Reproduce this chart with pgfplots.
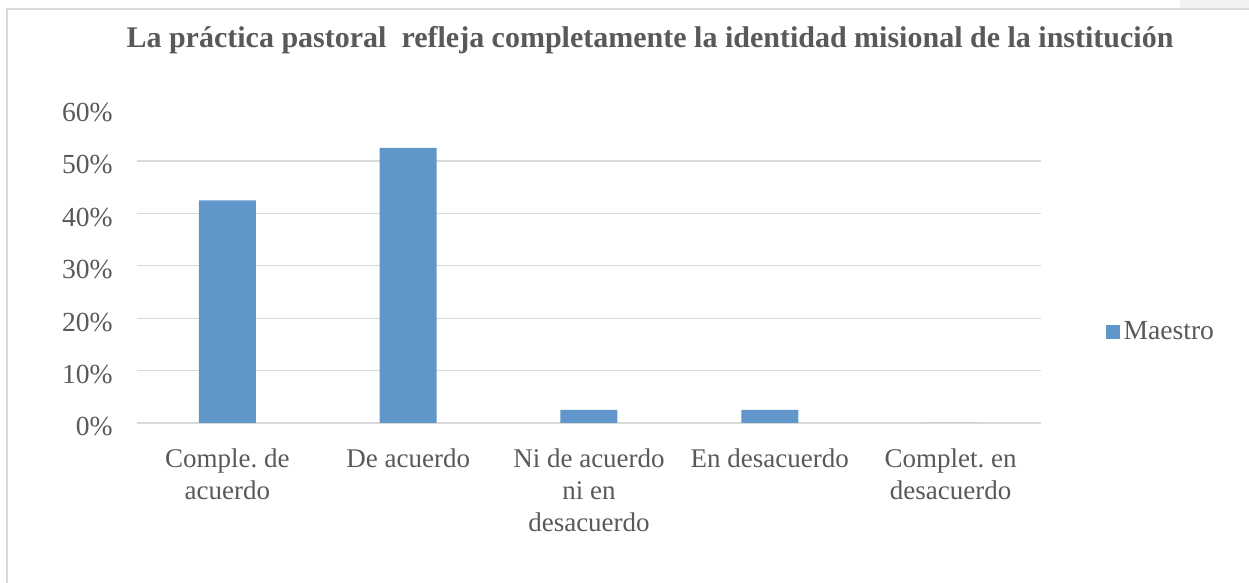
\documentclass[border=0pt]{standalone}
\usepackage{fontspec}
\setmainfont{Liberation Serif}
\usepackage{pgfplots}
\pgfplotsset{compat=1.18}
\definecolor{barblue}{HTML}{6096CA}
\definecolor{txtgray}{HTML}{595959}
\definecolor{gridgray}{HTML}{D9D9D9}
\frenchspacing
\begin{document}
\begin{tikzpicture}
\useasboundingbox (-68.5pt,-80pt) rectangle (556pt,211.5pt);
\fill[black!5] (521.5pt,207pt) rectangle (556pt,211.5pt);
\draw[gridgray, line width=0.75pt] (-65pt,-85pt) -- (-65pt,207pt) -- (560pt,207pt);
\begin{axis}[
  at={(0pt,0pt)}, anchor=south west,
  scale only axis,
  width=452pt, height=157.2pt,
  xmin=-0.5, xmax=4.5, ymin=0, ymax=60,
  ybar, bar width=28.5pt,
  axis line style={draw=none},
  major tick length=0pt,
  xtick={0,1,2,3,4},
  xticklabels={{Comple. de\\acuerdo},{De acuerdo},{Ni de acuerdo\\ni en\\desacuerdo},{En desacuerdo},{Complet. en\\desacuerdo}},
  xticklabel style={align=center, anchor=north, inner sep=0pt, yshift=-12.5pt, font=\fontsize{13.5}{16}\selectfont, text=txtgray},
  ytick={0,10,20,30,40,50},
  yticklabels={0\%,10\%,20\%,30\%,40\%,50\%},
  extra y ticks={60}, extra y tick labels={60\%},
  extra y tick style={grid=none},
  yticklabel style={anchor=east, inner sep=0pt, xshift=-12pt, yshift=-2pt, font=\fontsize{13.8}{16}\selectfont, text=txtgray},
  ymajorgrids, major grid style={gridgray, line width=0.6pt},
  legend style={at={(1.071,0.289)}, anchor=west, draw=none, fill=none, inner sep=0pt, font=\fontsize{13.8}{16}\selectfont, text=txtgray, legend cell align=left},
  legend image code/.code={\fill[barblue] (0pt,-3.5pt) rectangle (7pt,3.5pt);},
]
\addplot[fill=barblue, draw=none] coordinates {(0,42.5) (1,52.5) (2,2.5) (3,2.5) (4,0)};
\addlegendentry{Maestro}
\end{axis}
\node[anchor=base, text=txtgray, font=\fontsize{15}{18}\selectfont\bfseries] at (256.5pt,187.8pt) {La práctica pastoral\ \ refleja completamente la identidad misional de la institución};
\end{tikzpicture}
\end{document}
